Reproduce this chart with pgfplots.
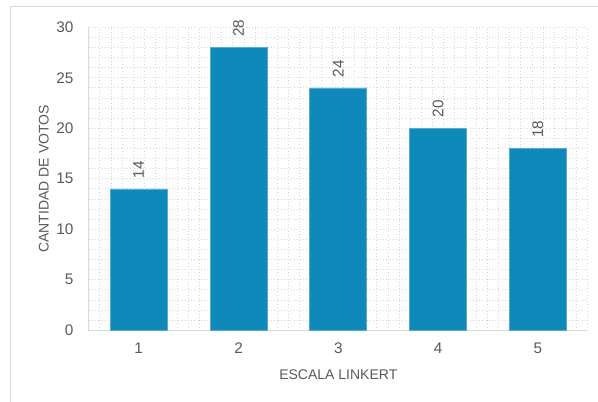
\documentclass[border=0pt]{standalone}
\usepackage{pgfplots}
\pgfplotsset{compat=1.18}
\usepackage{fontspec}
\setmainfont{Liberation Sans}
\definecolor{barblue}{HTML}{0E89BA}
\definecolor{txtgray}{HTML}{595959}
\definecolor{gridgray}{HTML}{D6D6D6}
\definecolor{axgray}{HTML}{D9D9D9}
\begin{document}
\begin{tikzpicture}[x=0.75pt,y=0.75pt]
\useasboundingbox (0,0) rectangle (598,402);
\draw[axgray,line width=0.75pt] (10,0) -- (10,395) -- (598,395);
\begin{axis}[
  at={(89,71)}, anchor=origin,
  scale only axis, width=374.25pt, height=227.25pt,
  xmin=0.5, xmax=5.5, ymin=0, ymax=30,
  xtick={1,2,3,4,5}, ytick={0,5,...,30},
  minor xtick={0.5,0.611,...,5.5},
  minor ytick={0,1,...,30},
  grid=minor,
  minor grid style={gridgray, dotted, line width=0.6pt},
  axis x line*=bottom, axis y line*=left,
  axis line style={axgray, line width=1pt},
  x axis line style={-}, y axis line style={-},
  major tick length=0pt, minor tick length=0pt,
  tick label style={font=\fontsize{11.5}{13}\selectfont, text=txtgray},
  /pgf/number format/assume math mode=true,
  xticklabel style={yshift=-6pt},
  yticklabel style={xshift=-8pt},
  xlabel={ESCALA LINKERT}, ylabel={CANTIDAD DE VOTOS},
  label style={font=\fontsize{10.5}{13}\selectfont, text=txtgray},
  xlabel style={at={(axis description cs:0.5,-0.145)}, anchor=center},
  ylabel style={at={(axis description cs:-0.09,0.5)}, anchor=center},
  clip=false,
  ybar, bar width=42.75pt,
  nodes near coords,
  every node near coord/.append style={rotate=90, anchor=west, font=\fontsize{11.5}{13}\selectfont, text=txtgray, xshift=4.5pt},
]
\addplot[fill=barblue, draw=barblue!70!white, line width=0.5pt] coordinates {(1,14) (2,28) (3,24) (4,20) (5,18)};
\end{axis}
\end{tikzpicture}
\end{document}
